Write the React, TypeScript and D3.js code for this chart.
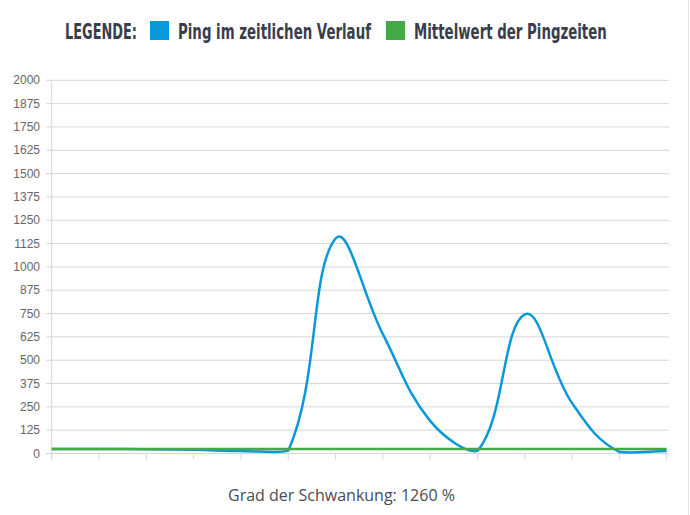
import React, { useRef, useLayoutEffect, useState } from 'react';
import { scaleLinear, line } from 'd3';

// ping over time (ms), one value per measurement
const labels = ['1', '2', '3', '4', '5', '6', '7', '8', '9', '10', '11', '12', '13', '14'];
const pingValues = [24, 24, 23, 20, 13, 15, 1152, 640, 175, 14, 745, 270, 8, 14];
const meanValues = [24, 24, 24, 24, 24, 24, 24, 24, 24, 24, 24, 24, 24, 24];
const yTicks = [0, 125, 250, 375, 500, 625, 750, 875, 1000, 1125, 1250, 1375, 1500, 1625, 1750, 1875, 2000];

const BLUE = '#0a98dc';
const GREEN = '#45a945';

// bezier spline like the one the original chart lib draws (tension 0.4, control points kept inside the plot)
function splineCurve(tension: number, x0: number, x1: number, y0: number, y1: number) {
  return (context: any) => {
    let pts: number[][] = [];
    const clampX = (v: number) => Math.max(x0, Math.min(x1, v));
    const clampY = (v: number) => Math.max(y0, Math.min(y1, v));
    return {
      areaStart() {},
      areaEnd() {},
      lineStart() { pts = []; },
      point(x: number, y: number) { pts.push([x, y]); },
      lineEnd() {
        const n = pts.length;
        if (!n) return;
        const cps = pts.map((p, i) => {
          const prev = pts[Math.max(0, i - 1)];
          const next = pts[Math.min(n - 1, i + 1)];
          const d01 = Math.hypot(p[0] - prev[0], p[1] - prev[1]);
          const d12 = Math.hypot(next[0] - p[0], next[1] - p[1]);
          let s01 = d01 / (d01 + d12);
          let s12 = d12 / (d01 + d12);
          if (isNaN(s01)) s01 = 0;
          if (isNaN(s12)) s12 = 0;
          const fa = tension * s01;
          const fb = tension * s12;
          return {
            px: clampX(p[0] - fa * (next[0] - prev[0])),
            py: clampY(p[1] - fa * (next[1] - prev[1])),
            nx: clampX(p[0] + fb * (next[0] - prev[0])),
            ny: clampY(p[1] + fb * (next[1] - prev[1])),
          };
        });
        context.moveTo(pts[0][0], pts[0][1]);
        for (let i = 1; i < n; i++) {
          context.bezierCurveTo(cps[i - 1].nx, cps[i - 1].ny, cps[i].px, cps[i].py, pts[i][0], pts[i][1]);
        }
      },
    };
  };
}

// condensed legend text: squeeze the text horizontally to the width it has in the original
function FitText({ x, y, width, children }: any) {
  const ref: any = useRef();
  const [sx, setSx] = useState(1);
  useLayoutEffect(() => {
    const w = ref.current.getComputedTextLength();
    if (w > 0) setSx(width / w);
  }, [width, children]);
  return (
    <text ref={ref} x={0} y={0} transform={`translate(${x},${y}) scale(${sx},1)`}>
      {children}
    </text>
  );
}

function App() {
  const left = 51.7;
  const right = 666.7;
  const gridRight = 669;
  const top = 80.3;
  const bottom = 453.5;

  const xScale: any = scaleLinear().domain([0, labels.length - 1]).range([left, right]);
  const yScale: any = scaleLinear().domain([0, 2000]).range([bottom, top]);

  const makeLine: any = line()
    .x((d: any, i: any) => xScale(i))
    .y((d: any) => yScale(d))
    .curve(splineCurve(0.4, left, gridRight, top, bottom) as any);

  return (
    <svg width={690} height={515} style={{ position: 'absolute', left: 0, top: 0, background: '#fff' }}>
      {/* legend */}
      <g fontFamily="'Liberation Sans Narrow', 'DejaVu Sans Condensed', sans-serif" fontSize={22} fontWeight="bold" fill="#3a3d4c">
        <FitText x={65} y={39} width={72}>LEGENDE:</FitText>
        <rect x={150} y={21} width={19} height={19} fill={BLUE} />
        <FitText x={178} y={39} width={193}>Ping im zeitlichen Verlauf</FitText>
        <rect x={386} y={21} width={19} height={19} fill={GREEN} />
        <FitText x={414} y={39} width={193}>Mittelwert der Pingzeiten</FitText>
      </g>

      {/* y grid + labels */}
      <g fontFamily="'Liberation Sans', Arial, sans-serif" fontSize={12} fill="#666">
        {yTicks.map((t) => (
          <g key={t}>
            <line x1={46} x2={gridRight} y1={yScale(t)} y2={yScale(t)} stroke="#d6d6d6" strokeWidth={1} />
            <text x={40} y={yScale(t) + 4} textAnchor="end">{t}</text>
          </g>
        ))}
      </g>

      {/* y axis line */}
      <line x1={left} x2={left} y1={top} y2={bottom + 6} stroke="#d6d6d6" strokeWidth={1} />

      {/* x tick stubs */}
      {labels.map((l, i) => (
        <line key={l} x1={xScale(i)} x2={xScale(i)} y1={bottom} y2={bottom + 6} stroke="#d6d6d6" strokeWidth={1} />
      ))}

      {/* right border of container */}
      <line x1={688.5} x2={688.5} y1={0} y2={515} stroke="#e2e2e2" strokeWidth={1} />

      <path d={makeLine(pingValues)} fill="none" stroke={BLUE} strokeWidth={2.5} />
      <path d={makeLine(meanValues)} fill="none" stroke={GREEN} strokeWidth={2.5} />

      <text
        x={341.5}
        y={501}
        textAnchor="middle"
        fontFamily="'Open Sans', sans-serif"
        fontSize={16}
        fill="#4a4a55"
      >
        Grad der Schwankung: 1260 %
      </text>
    </svg>
  );
}

export default App;
